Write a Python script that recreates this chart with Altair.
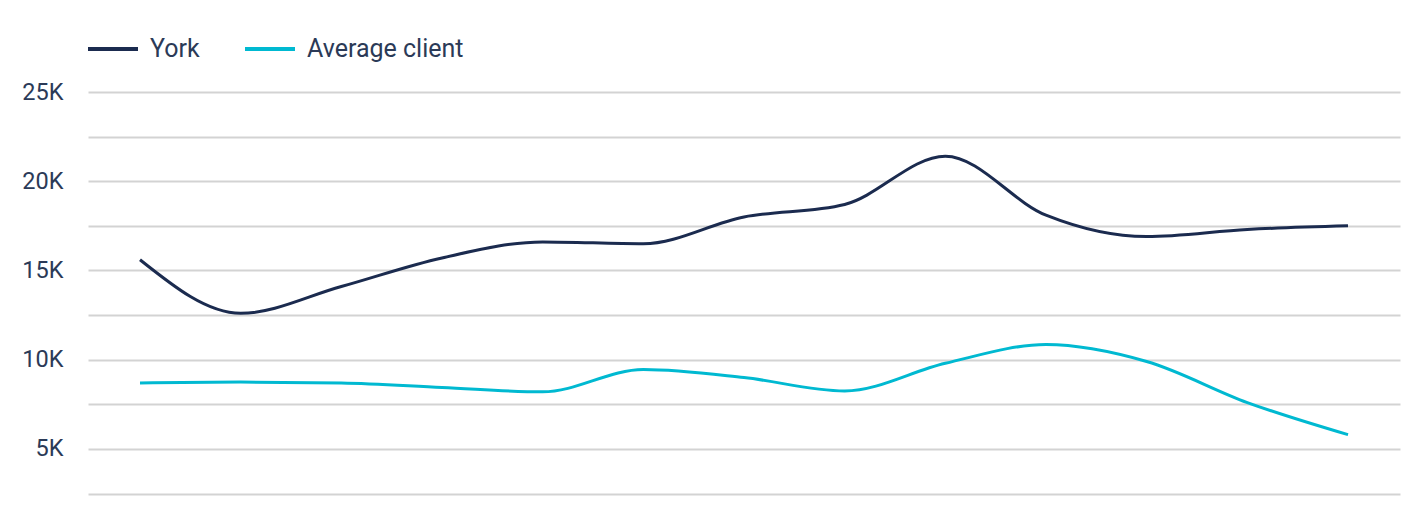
import altair as alt
import pandas as pd

# Data (values in thousands)
periods = list(range(13))
york = [15.6, 12.6, 14.1, 15.7, 16.6, 16.5, 18.0, 18.7, 21.4, 18.1, 16.9, 17.3, 17.5]
average_client = [8.7, 8.75, 8.7, 8.45, 8.2, 9.45, 9.0, 8.25, 9.8, 10.85, 9.9, 7.6, 5.8]
series_names = ["York", "Average client"]
series_colors = ["#1b2b4f", "#00b9d1"]
y_ticks = [2500 * i for i in range(1, 11)]

rows = []
for p, v in zip(periods, york):
    rows.append({"period": p, "value": v * 1000, "series": "York"})
for p, v in zip(periods, average_client):
    rows.append({"period": p, "value": v * 1000, "series": "Average client"})
df = pd.DataFrame(rows)

chart = alt.Chart(df).mark_line(interpolate="monotone", strokeWidth=3).encode(
    x=alt.X("period:Q", axis=None,
            scale=alt.Scale(domain=[-0.5166, 12.5166], nice=False, zero=False)),
    y=alt.Y("value:Q", title=None,
            scale=alt.Scale(domain=[460, 25000], nice=False, zero=False),
            axis=alt.Axis(values=y_ticks,
                          labelExpr="datum.value % 5000 == 0 ? (datum.value / 1000) + 'K' : ''",
                          grid=True, gridColor="#d3d3d3", gridWidth=2,
                          domain=False, ticks=False, labelPadding=25,
                          labelFontSize=23.5, labelColor="#2b3a57", labelFont="Roboto")),
    color=alt.Color("series:N", sort=series_names,
                    scale=alt.Scale(domain=series_names, range=series_colors),
                    legend=alt.Legend(title=None, orient="none", legendX=-2, legendY=-70,
                                      direction="horizontal", symbolType="stroke",
                                      symbolSize=2500, symbolStrokeWidth=4,
                                      labelFontSize=25, labelFont="Roboto",
                                      labelColor="#2b3a57", labelOffset=10,
                                      columnPadding=37)),
).properties(
    width=1312, height=438,
    autosize=alt.AutoSizeParams(type="none"),
    padding={"left": 88, "top": 92, "right": 22, "bottom": 0},
).configure_view(stroke=None)

chart.save("out.html", embed_options={"renderer": "svg", "actions": False})
